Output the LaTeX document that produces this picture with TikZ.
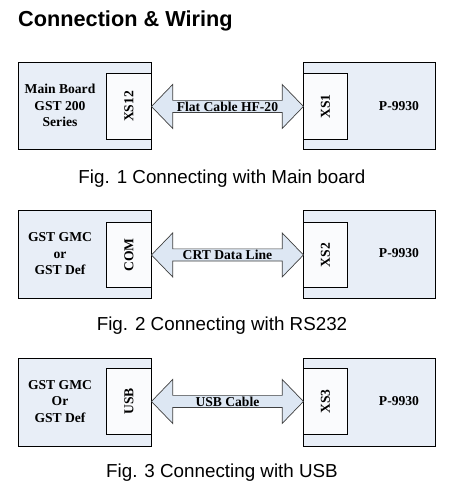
\documentclass[tikz,border=0pt]{standalone}
\usepackage{fontspec}
\setmainfont{Liberation Serif}
\newfontfamily\capfont{Liberation Sans}
\usetikzlibrary{shapes.arrows,calc}
\definecolor{boxfill}{HTML}{E8EEF7}
\definecolor{portfill}{HTML}{FAFBFD}
\definecolor{arrowfill}{HTML}{DDE7F3}
\definecolor{arrowline}{HTML}{404040}
\begin{document}
\begin{tikzpicture}[x=1pt,y=-1pt,
  outerbox/.style={draw=black,line width=0.9pt,fill=boxfill,minimum width=133pt,minimum height=87pt,inner sep=0pt,anchor=north west},
  portbox/.style={draw=black,line width=0.9pt,fill=portfill,minimum width=45pt,minimum height=66pt,inner sep=0pt,anchor=north west},
  porttext/.style={font=\bfseries\fontsize{13.6}{16}\selectfont,rotate=90},
  boxtext/.style={font=\bfseries\fontsize{13.6}{16.5}\selectfont,align=center,inner sep=0pt},
  cable/.style={double arrow,draw=arrowline,line width=0.7pt,fill=arrowfill,minimum width=44pt,minimum height=152pt,double arrow head extend=13.5pt,double arrow tip angle=92,inner sep=0pt,font=\bfseries\fontsize{13.6}{16}\selectfont},
  caption/.style={font=\capfont\fontsize{18.8}{22}\selectfont,inner sep=0pt}]
\useasboundingbox (0,0) rectangle (459,504);
\node[font=\capfont\bfseries\fontsize{21.7}{26}\selectfont,anchor=west,inner sep=0pt] (title) at (18,21) {Connection \& Wiring};
% Fig 1
\node[outerbox] (l1) at (18,62) {};
\node[portbox] (xs12) at (106,73) {};
\node[porttext] at (xs12.center) {XS12};
\node[boxtext] (t1) at (60,105.5) {Main Board\\GST 200\\Series};
\node[outerbox,minimum width=132pt] (r1) at (303,62) {};
\node[portbox,minimum width=44pt] (xs1) at (303,73) {};
\node[porttext] at (xs1.center) {XS1};
\node[boxtext] (p1) at (399,106) {P-9930};
\node[cable] (c1) at ($(xs12.east)!0.5!(xs1.west)$) {Flat Cable HF-20};
\node[caption] (f1) at (222,178.5) {Fig. 1 Connecting with Main board};
% Fig 2
\node[outerbox,minimum height=88pt] (l2) at (18,210) {};
\node[portbox,minimum height=65pt] (com) at (106,222) {};
\node[porttext] at (com.center) {COM};
\node[boxtext] (t2) at (60,254) {GST GMC\\or\\GST Def};
\node[outerbox,minimum width=132pt,minimum height=88pt] (r2) at (303,210) {};
\node[portbox,minimum width=44pt,minimum height=65pt] (xs2) at (303,222) {};
\node[porttext] at (xs2.center) {XS2};
\node[boxtext] (p2) at (399,253.5) {P-9930};
\node[cable] (c2) at ($(com.east)!0.5!(xs2.west)$) {CRT Data Line};
\node[caption] (f2) at (222,325.5) {Fig. 2 Connecting with RS232};
% Fig 3
\node[outerbox,minimum height=88pt] (l3) at (18,358) {};
\node[portbox] (usb) at (106,368) {};
\node[porttext] at (usb.center) {USB};
\node[boxtext] (t3) at (60,401.5) {GST GMC\\Or\\GST Def};
\node[outerbox,minimum width=132pt,minimum height=88pt] (r3) at (303,358) {};
\node[portbox,minimum width=44pt] (xs3) at (303,368) {};
\node[porttext] at (xs3.center) {XS3};
\node[boxtext] (p3) at (399,401) {P-9930};
\node[cable] (c3) at ($(usb.east)!0.5!(xs3.west)$) {USB Cable};
\node[caption] (f3) at (222,473) {Fig. 3 Connecting with USB};
\end{tikzpicture}
\end{document}
